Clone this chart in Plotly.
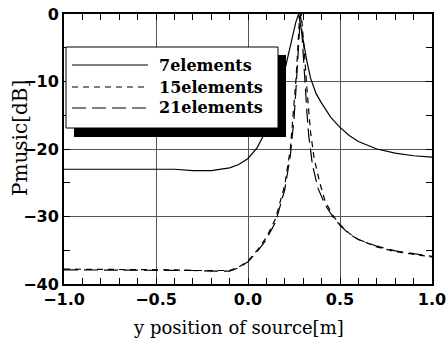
import plotly.graph_objects as go

# MUSIC spectrum vs. source position for three array sizes
x7 = [-1.0, -0.8, -0.6, -0.4, -0.3, -0.2, -0.1, -0.05, 0.0, 0.05, 0.1, 0.15, 0.2, 0.22, 0.24, 0.26,
      0.275, 0.29, 0.30, 0.32, 0.34, 0.37, 0.4, 0.45, 0.5, 0.55, 0.6, 0.7, 0.8, 0.9, 1.0]
p7 = [-23.0, -23.0, -23.0, -23.0, -23.2, -23.2, -22.8, -22.3, -21.4, -19.8, -17.2, -13.3, -8.3, -6.0,
      -3.6, -1.2, 0.0, -2.5, -4.0, -7.0, -9.5, -11.8, -13.2, -15.3, -16.8, -18.0, -18.9, -20.0, -20.6,
      -21.0, -21.2]

x15 = [-1.0, -0.8, -0.6, -0.4, -0.3, -0.2, -0.1, -0.05, 0.0, 0.05, 0.1, 0.15, 0.2, 0.23, 0.25, 0.26,
       0.27, 0.28, 0.29, 0.30, 0.31, 0.32, 0.33, 0.34, 0.36, 0.39, 0.42, 0.46, 0.5, 0.55, 0.6, 0.7,
       0.8, 0.9, 1.0]
p15 = [-37.8, -37.8, -37.8, -37.9, -38.0, -38.0, -38.0, -37.5, -36.6, -35.0, -33.1, -30.3, -25.3,
       -20.0, -14.0, -10.0, -5.5, -0.5, 0.0, -3.0, -7.0, -11.0, -14.5, -17.5, -21.5, -25.0, -27.8,
       -29.8, -31.2, -32.5, -33.4, -34.5, -35.2, -35.6, -36.0]

x21 = [-1.0, -0.8, -0.6, -0.4, -0.3, -0.2, -0.1, -0.05, 0.0, 0.05, 0.1, 0.15, 0.2, 0.23, 0.25, 0.26,
       0.27, 0.28, 0.285, 0.29, 0.30, 0.31, 0.32, 0.33, 0.35, 0.38, 0.42, 0.46, 0.5, 0.55, 0.6, 0.7,
       0.8, 0.9, 1.0]
p21 = [-37.9, -37.9, -37.9, -38.0, -38.0, -38.1, -38.1, -37.6, -36.7, -35.2, -33.4, -30.8, -26.0,
       -21.0, -15.5, -11.5, -7.0, -1.5, 0.0, -1.5, -6.5, -10.5, -14.5, -18.0, -22.3, -25.8, -28.3,
       -30.0, -31.3, -32.6, -33.4, -34.4, -35.1, -35.5, -35.9]

series_names = ["7elements", "15elements", "21elements"]
dashes = ["solid", "6px,5px", "14px,6px"]

x_ticks = [-1.0, -0.5, 0.0, 0.5, 1.0]
x_ticktext = ["\u22121.0", "\u22120.5", "0.0", "0.5", "1.0"]
y_ticks = [0, -10, -20, -30, -40]
y_ticktext = ["0", "\u221210", "\u221220", "\u221230", "\u221240"]

W, H = 447, 343
L, R, T, B = 64, 432, 14, 284


def px_x(p):
    return (p - L) / (R - L)


def px_y(p):
    return (B - p) / (B - T)


fig = go.Figure()
for xs, ys, name, dash in zip([x7, x15, x21], [p7, p15, p21], series_names, dashes):
    fig.add_trace(go.Scatter(x=xs, y=ys, mode="lines", name=name,
                             line=dict(color="black", width=1.2, dash=dash)))

tick_font = dict(family="DejaVu Sans", size=16, color="black", weight="bold")
fig.update_xaxes(range=[-1, 1], tickvals=x_ticks, ticktext=x_ticktext, showgrid=True,
                 gridcolor="#555", gridwidth=1, zeroline=False, showline=True, linecolor="black",
                 linewidth=2, mirror="allticks", ticks="inside", ticklen=6, tickcolor="black",
                 minor=dict(dtick=0.1, tick0=0, ticks="inside", ticklen=6, tickcolor="black",
                            showgrid=False),
                 tickfont=tick_font, automargin=False)
fig.update_yaxes(range=[-40, 0], tickvals=y_ticks, ticktext=y_ticktext, showgrid=True,
                 gridcolor="#555", gridwidth=1, zeroline=False, showline=True, linecolor="black",
                 linewidth=2, mirror="allticks", ticks="inside", ticklen=6, tickcolor="black",
                 minor=dict(dtick=5, tick0=0, ticks="inside", ticklen=6, tickcolor="black",
                            showgrid=False),
                 tickfont=tick_font, automargin=False)

# Legend panel with drop shadow
shapes = [
    dict(type="rect", xref="paper", yref="paper", x0=px_x(74), x1=px_x(286), y0=px_y(137),
         y1=px_y(55), fillcolor="black", line=dict(width=0), layer="above"),
    dict(type="rect", xref="paper", yref="paper", x0=px_x(66), x1=px_x(278), y0=px_y(128),
         y1=px_y(47), fillcolor="white", line=dict(color="black", width=1), layer="above"),
]
annotations = []
rows = [65, 87, 108]
for ry, name, dash in zip(rows, series_names, dashes):
    shapes.append(dict(type="line", xref="paper", yref="paper", x0=px_x(72), x1=px_x(148),
                       y0=px_y(ry), y1=px_y(ry), line=dict(color="black", width=1.2, dash=dash),
                       layer="above"))
    annotations.append(dict(text=name, xref="paper", yref="paper", x=px_x(157), y=px_y(ry),
                            xanchor="left", yanchor="middle", showarrow=False,
                            font=dict(family="DejaVu Serif", size=16, color="black",
                                      weight="bold")))

annotations.append(dict(text="Pmusic[dB]", xref="paper", yref="paper", x=px_x(20), y=px_y(138),
                        xanchor="center", yanchor="middle", textangle=-90, showarrow=False,
                        font=dict(family="DejaVu Serif", size=20, color="black")))
annotations.append(dict(text="y position of source[m]", xref="paper", yref="paper", x=px_x(238),
                        y=px_y(327), xanchor="center", yanchor="middle", showarrow=False,
                        font=dict(family="DejaVu Serif", size=18, color="black")))

fig.update_layout(width=W, height=H, margin=dict(l=L, r=W - R, t=T, b=H - B),
                  paper_bgcolor="white", plot_bgcolor="white", showlegend=False,
                  shapes=shapes, annotations=annotations)

fig.write_html("out.html")
